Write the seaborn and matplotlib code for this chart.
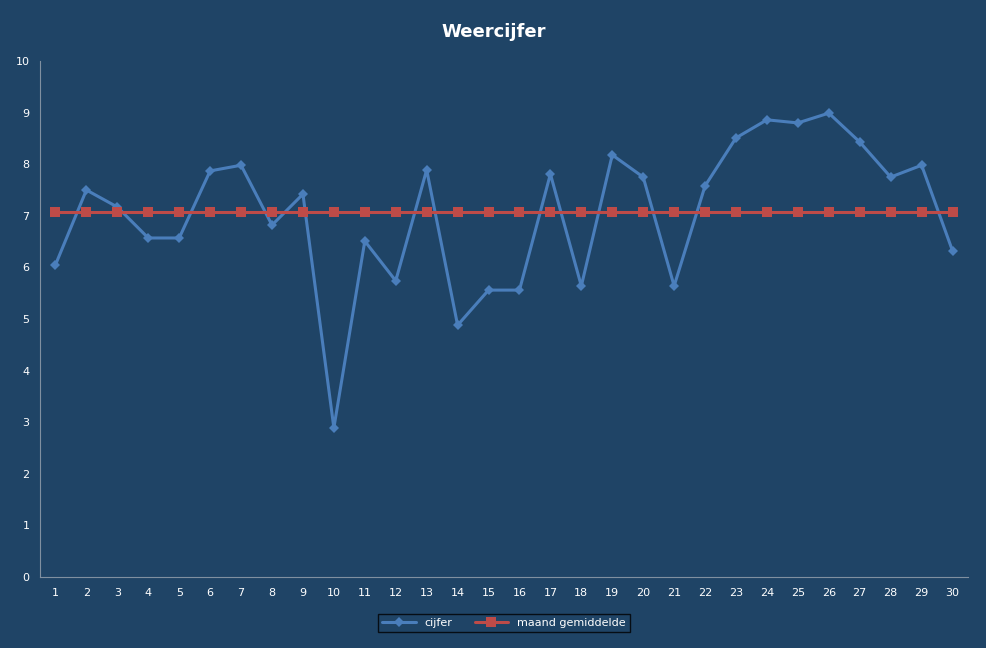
import matplotlib
matplotlib.use("Agg")
import matplotlib.pyplot as plt
import seaborn as sns
import pandas as pd

days = list(range(1, 31))
cijfer = [6.05, 7.5, 7.17, 6.57, 6.57, 7.87, 7.98, 6.82, 7.42, 2.89,
          6.51, 5.74, 7.89, 4.88, 5.56, 5.56, 7.81, 5.64, 8.18, 7.75,
          5.64, 7.58, 8.51, 8.86, 8.8, 8.99, 8.43, 7.75, 7.98, 6.32]
gemiddelde = [7.07] * 30

bg = "#1F4466"
sns.set_style("white")
plt.rcParams['font.family'] = ['DejaVu Sans']
fig = plt.figure(figsize=(9.87, 6.48), dpi=100, facecolor=bg)
ax = fig.add_axes([40/987, 1-577/648, 928/987, 516/648], facecolor=bg)

df = pd.DataFrame({"dag": days, "cijfer": cijfer, "gem": gemiddelde})
sns.lineplot(data=df, x="dag", y="cijfer", ax=ax, color="#4A7EBB", linewidth=2.2,
             marker="D", markersize=5, markeredgewidth=0, label="cijfer")
sns.lineplot(data=df, x="dag", y="gem", ax=ax, color="#BE4B48", linewidth=2.2,
             marker="s", markersize=7, markeredgewidth=0, label="maand gemiddelde")

ax.set_xlim(0.5, 30.5)
ax.set_ylim(0, 10)
ax.set_xticks(days)
ax.set_yticks(range(0, 11))
ax.set_xlabel("")
ax.set_ylabel("")
ax.tick_params(colors="white", labelsize=8, length=4, direction="out")
ax.tick_params(axis="x", length=0, pad=8)
for s in ["left", "bottom"]:
    ax.spines[s].set_color("#8090A0")
for s in ["top", "right"]:
    ax.spines[s].set_visible(False)
ax.set_xticks([x + 0.5 for x in range(0, 31)], minor=True)
ax.tick_params(axis="x", which="minor", length=4, color="#8090A0")

fig.text(0.5, 1-32/648, "Weercijfer", ha="center", va="center", color="white",
         fontsize=13, fontweight="bold")
leg = ax.legend(loc="center", bbox_to_anchor=(0.5, (577-623)/516), ncol=2, frameon=True,
                fontsize=8, fancybox=False, facecolor=bg, edgecolor="black",
                handlelength=3, borderpad=0.4)
for t in leg.get_texts():
    t.set_color("white")

fig.savefig("out.png", dpi=100, facecolor=bg)
